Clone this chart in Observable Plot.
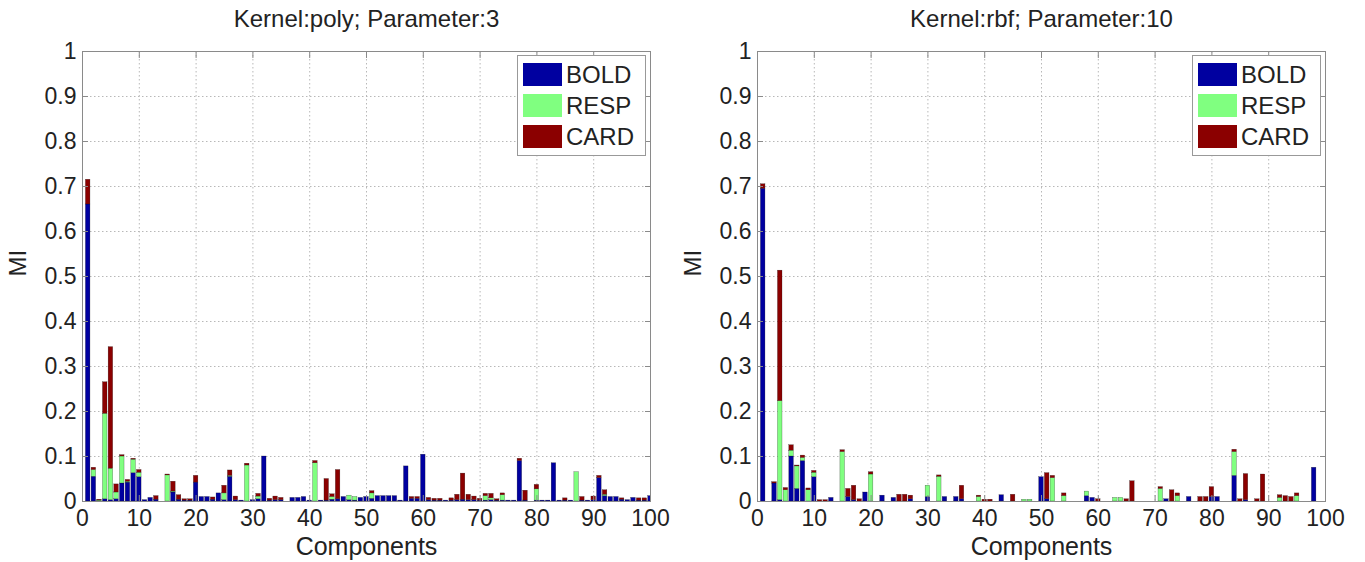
<!DOCTYPE html>
<html>
<head>
<meta charset="utf-8">
<script src="https://cdn.jsdelivr.net/npm/d3@7"></script>
<script src="https://cdn.jsdelivr.net/npm/@observablehq/plot@0.6"></script>
<style>
  html, body { margin: 0; padding: 0; background: #fff; }
  #wrap { position: relative; width: 1365px; height: 562px; overflow: hidden; font-family: "Liberation Sans", Arial, sans-serif; }
  .panel { position: absolute; top: 0; }
  .legend { position: absolute; background: #fff; border: 1px solid #999; box-sizing: border-box; padding: 7px 0 0 5px; }
  .legend .row { display: flex; align-items: center; height: 23px; margin-bottom: 8px; }
  .legend .sw { width: 39px; height: 23px; margin-right: 4px; }
  .legend .lb { font-size: 24px; color: #222; line-height: 23px; }
</style>
</head>
<body>
<div id="wrap"></div>
<script>
// ---- data ----
const series = ["BOLD", "RESP", "CARD"];
const colors = ["#0000a0", "#80ff80", "#8b0000"];
const xTicks = [0, 10, 20, 30, 40, 50, 60, 70, 80, 90, 100];
const yTicks = [0, 0.1, 0.2, 0.3, 0.4, 0.5, 0.6, 0.7, 0.8, 0.9, 1];
const titles = ["Kernel:poly; Parameter:3", "Kernel:rbf; Parameter:10"];
const xLabel = "Components";
const yLabel = "MI";

// Kernel: poly, parameter 3 (components 1..100)
const polyBold = [
  0.66,0.055,0,0.005,0.003,0.005,0.04,0.042,0.063,0.054,
  0.003,0.008,0.004,0,0,0.02,0.004,0.002,0.002,0.042,
  0.01,0.01,0.004,0.018,0.003,0.055,0.003,0.002,0,0.003,
  0.005,0.1,0.002,0.003,0.003,0,0.008,0.008,0.01,0.002,
  0,0.002,0.002,0.004,0.005,0.01,0.003,0.002,0.008,0.01,
  0.006,0.012,0.012,0.012,0.012,0.002,0.078,0.006,0.006,0.104,
  0.003,0.002,0.002,0.002,0.002,0.003,0.004,0.003,0.003,0.002,
  0.002,0.003,0.002,0.002,0.002,0.002,0.09,0.002,0,0.002,
  0.002,0.002,0.085,0.002,0.002,0.002,0,0.002,0.002,0.003,
  0.052,0.012,0.01,0.01,0.004,0.003,0.008,0.002,0.002,0.012
];
const polyResp = [
  0,0.015,0.002,0.19,0.07,0.015,0.06,0.002,0.03,0.01,
  0,0,0,0,0.058,0.002,0,0,0,0,
  0,0,0,0,0.015,0.002,0,0,0.08,0,
  0.006,0,0,0,0,0,0,0,0,0,
  0.085,0,0,0.006,0,0,0.01,0.008,0,0,
  0.012,0,0,0,0,0,0,0,0,0,
  0,0,0,0,0,0,0,0,0,0,
  0.01,0.004,0,0.012,0,0,0,0,0,0.025,
  0,0,0,0,0,0,0.065,0,0,0,
  0,0.003,0,0,0,0,0,0,0,0
];
const polyCard = [
  0.055,0.005,0.002,0.07,0.27,0.018,0.003,0.004,0.002,0.006,
  0,0,0.008,0,0.002,0.022,0.01,0.003,0.003,0.015,
  0,0,0.005,0,0.017,0.012,0.008,0,0.004,0,
  0.006,0,0.004,0.008,0.005,0,0,0,0,0,
  0.005,0,0.048,0.006,0.065,0,0,0,0,0,
  0.005,0,0,0,0,0,0,0.004,0.004,0,
  0.005,0.004,0.004,0,0.005,0.012,0.058,0.012,0.008,0.004,
  0.005,0.01,0.003,0.004,0,0,0.005,0.022,0,0.01,
  0,0,0,0,0.005,0,0,0.008,0,0.008,
  0.005,0.01,0,0,0.003,0,0,0.005,0.005,0
];

// Kernel: rbf, parameter 10 (components 1..100)
const rbfBold = [
  0.695,0,0.04,0.003,0,0.1,0.028,0.09,0,0.054,
  0,0,0.008,0,0,0.01,0.003,0,0.02,0,
  0,0.013,0,0.008,0,0,0.005,0,0,0.01,
  0,0,0.01,0,0.01,0.005,0,0,0,0,
  0,0,0.014,0,0,0,0,0,0,0.054,
  0.005,0,0,0,0,0,0,0.012,0.008,0,
  0,0,0,0,0,0,0,0,0,0,
  0,0.005,0,0,0,0.01,0,0,0,0.01,
  0.01,0,0,0.057,0,0.003,0,0,0,0,
  0,0,0,0,0,0,0,0.075,0,0
];
const rbfResp = [
  0,0,0,0.22,0.025,0.013,0.05,0.007,0.025,0.01,
  0,0,0,0,0.11,0,0,0,0,0.06,
  0,0,0,0,0,0,0,0,0,0.025,
  0,0.055,0,0,0,0,0,0,0.01,0,
  0,0,0,0,0,0,0.004,0.004,0,0,
  0,0.052,0,0.012,0,0,0,0.01,0,0,
  0,0,0.008,0.008,0,0,0,0,0,0,
  0.028,0,0,0.012,0,0,0,0,0,0,
  0,0,0,0.053,0,0,0,0,0,0,
  0,0.008,0,0,0.012,0,0,0,0,0
];
const rbfCard = [
  0.01,0,0.003,0.29,0.005,0.012,0.002,0.005,0.004,0.004,
  0.003,0.003,0,0,0.004,0.018,0.032,0.005,0,0.005,
  0,0,0,0,0.015,0.015,0.008,0,0,0,
  0,0.003,0,0,0,0.03,0,0,0.003,0.004,
  0.004,0,0,0,0.015,0,0,0,0,0,
  0.058,0.005,0,0.006,0,0,0,0,0,0.005,
  0,0,0,0,0.005,0.045,0,0,0,0,
  0.004,0,0.025,0.006,0,0,0,0.01,0.01,0.022,
  0,0,0,0.005,0.005,0.058,0,0.005,0.06,0,
  0,0.006,0.012,0.01,0.006,0,0,0,0,0
];

// ---- drawing ----
const font = '"Liberation Sans", Arial, sans-serif';
const yFmt = d => (d === 0 || d === 1) ? String(d) : d.toFixed(1);

function toLong(bold, resp, card) {
  const out = [];
  const cols = [bold, resp, card];
  for (let i = 0; i < bold.length; i++) {
    series.forEach((s, k) => out.push({c: i + 1, s, v: cols[k][i]}));
  }
  return out;
}

function panel(title, bold, resp, card, width, marginRight) {
  const data = toLong(bold, resp, card);
  return Plot.plot({
    width, height: 562,
    marginLeft: 82, marginRight, marginTop: 51, marginBottom: 61,
    style: {fontFamily: font, color: "#222", background: "#fff", overflow: "visible"},
    x: {domain: [0, 100]},
    y: {domain: [0, 1]},
    color: {domain: series, range: colors},
    marks: [
      Plot.gridX(xTicks, {stroke: "#b8b8b8", strokeOpacity: 1, strokeDasharray: "1.5,2.5"}),
      Plot.gridY(yTicks, {stroke: "#b8b8b8", strokeOpacity: 1, strokeDasharray: "1.5,2.5"}),
      Plot.rect(data, Plot.stackY({
        x: "c", x1: d => d.c - 0.4, x2: d => d.c + 0.4,
        y: "v", fill: "s", stroke: "#111", strokeWidth: 0.35, strokeOpacity: 0.7, clip: true
      })),
      Plot.frame({stroke: "#8a8a8a"}),
      Plot.axisY(yTicks, {anchor: "left", tickSize: 0, tickPadding: 6, tickFormat: yFmt, fontSize: 23, label: null}),
      Plot.axisY(yTicks, {anchor: "left", tickSize: 6, dx: 6, tickFormat: () => "", label: null, stroke: "#8a8a8a"}),
      Plot.axisY(yTicks, {anchor: "right", tickSize: 6, dx: -6, tickFormat: () => "", label: null, stroke: "#8a8a8a"}),
      Plot.axisX(xTicks, {anchor: "bottom", tickSize: 0, tickPadding: 8, fontSize: 23, label: null}),
      Plot.axisX(xTicks, {anchor: "bottom", tickSize: 6, dy: -6, tickFormat: () => "", label: null, stroke: "#8a8a8a"}),
      Plot.axisX(xTicks, {anchor: "top", tickSize: 6, dy: 6, tickFormat: () => "", label: null, stroke: "#8a8a8a"}),
      Plot.text([title], {text: d => d, frameAnchor: "top", dy: -42, fontSize: 24, fill: "#222"}),
      Plot.text([yLabel], {text: d => d, frameAnchor: "left", dx: -64, rotate: -90, fontSize: 24, fill: "#222"}),
      Plot.text([xLabel], {text: d => d, frameAnchor: "bottom", dy: 53, fontSize: 25, fill: "#222"})
    ]
  });
}

function legend(left, top) {
  const box = document.createElement("div");
  box.className = "legend";
  box.style.left = left + "px";
  box.style.top = top + "px";
  box.style.width = "129px";
  box.style.height = "101px";
  series.forEach((s, i) => {
    const row = document.createElement("div");
    row.className = "row";
    const sw = document.createElement("div");
    sw.className = "sw";
    sw.style.background = colors[i];
    const lb = document.createElement("div");
    lb.className = "lb";
    lb.textContent = s;
    row.appendChild(sw); row.appendChild(lb);
    box.appendChild(row);
  });
  return box;
}

const wrap = document.getElementById("wrap");
const configs = [
  {title: titles[0], b: polyBold, r: polyResp, k: polyCard, left: 0, width: 675, mr: 25},
  {title: titles[1], b: rbfBold, r: rbfResp, k: rbfCard, left: 675, width: 690, mr: 40}
];
configs.forEach(cfg => {
  const div = document.createElement("div");
  div.className = "panel";
  div.style.left = cfg.left + "px";
  div.appendChild(panel(cfg.title, cfg.b, cfg.r, cfg.k, cfg.width, cfg.mr));
  wrap.appendChild(div);
  wrap.appendChild(legend(cfg.left + 517, 55));
});
</script>
</body>
</html>
